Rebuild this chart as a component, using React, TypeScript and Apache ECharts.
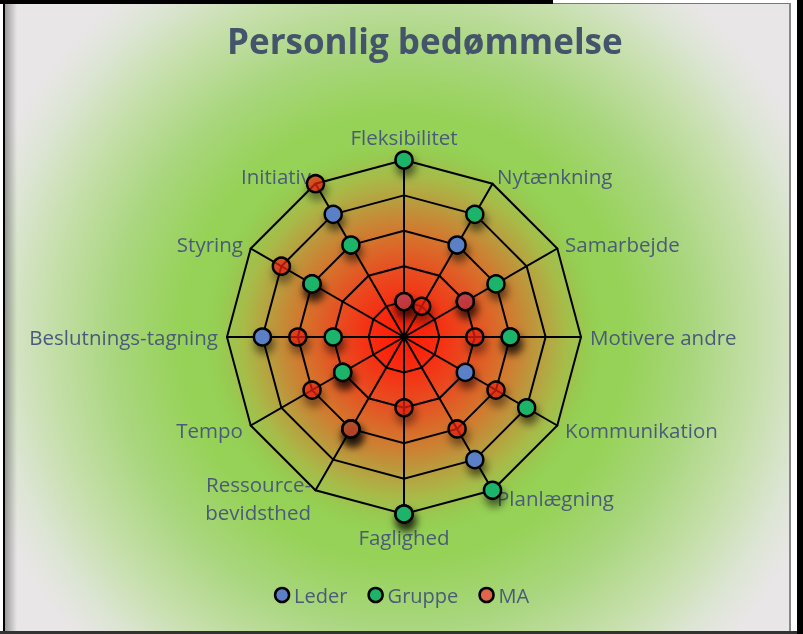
import React, { useEffect, useRef } from "react";
import * as echarts from "echarts";

// Indicators listed clockwise starting at the top
const indicators = [
  "Fleksibilitet",
  "Nytænkning",
  "Samarbejde",
  "Motivere andre",
  "Kommunikation",
  "Planlægning",
  "Faglighed",
  "Ressource-\nbevidsthed",
  "Tempo",
  "Beslutnings-tagning",
  "Styring",
  "Initiativ",
];
const seriesNames = ["Leder", "Gruppe", "MA"];
const leder = [1, 3, 2, 3, 2, 4, 5, 3, 2, 4, 3, 4];
const gruppe = [5, 4, 3, 3, 4, 5, 5, 3, 2, 2, 3, 3];
const ma = [1, 1, 2, 2, 3, 3, 2, 3, 3, 3, 4, 5];
const maxValue = 5;

export default function App() {
  const ref = useRef<HTMLDivElement>(null);
  useEffect(() => {
    if (!ref.current) return;
    const chart = echarts.init(ref.current, undefined, { renderer: "svg" });
    // ECharts radar runs counter-clockwise; reorder to draw clockwise
    const order = [0, ...Array.from({ length: indicators.length - 1 }, (_, i) => indicators.length - 1 - i)];
    const reorder = (arr: number[]) => order.map((i) => arr[i]);
    const fillColors = ["#5b80c6", "#1fb36a", "rgba(240,40,20,0.66)"];
    const legendColors = ["#5b80c6", "#1fb36a", "#e0654a"];
    const values = [leder, gruppe, ma];
    const font = "'Open Sans', sans-serif";
    chart.setOption({
      animation: false,
      title: {
        text: "Personlig bedømmelse",
        left: 222,
        top: 18,
        textStyle: { color: "#44546a", fontSize: 35, fontWeight: "bold", fontFamily: font },
      },
      legend: {
        left: "center",
        top: 580,
        itemWidth: 14,
        itemHeight: 14,
        itemGap: 20,
        icon: "circle",
        textStyle: { color: "#4a5a7a", fontSize: 20, fontFamily: font },
        data: seriesNames.map((n, i) => ({
          name: n,
          itemStyle: { color: legendColors[i], borderColor: "#000", borderWidth: 2.5 },
        })),
      },
      graphic: [
        { type: "rect", z: -10, shape: { x: 0, y: 0, width: 803, height: 634 }, style: { fill: "#ffffff" } },
        {
          type: "rect",
          z: -9,
          shape: { x: 5, y: 4, width: 786, height: 627 },
          style: {
            fill: {
              type: "radial",
              x: 404,
              y: 337,
              r: 445,
              global: true,
              colorStops: [
                { offset: 0, color: "#92d050" },
                { offset: 0.5, color: "#96d257" },
                { offset: 0.65, color: "#a9d67e" },
                { offset: 0.8, color: "#c6dfab" },
                { offset: 0.92, color: "#dde5d5" },
                { offset: 1, color: "#e9e6e7" },
              ],
            },
          },
        },
        {
          type: "circle",
          z: -8,
          shape: { cx: 404, cy: 337, r: 200 },
          style: {
            fill: {
              type: "radial",
              x: 0.5,
              y: 0.5,
              r: 0.5,
              colorStops: [
                { offset: 0, color: "#ff1a00" },
                { offset: 0.15, color: "#f82a10" },
                { offset: 0.33, color: "#e84c20" },
                { offset: 0.5, color: "#d6722c" },
                { offset: 0.66, color: "#bc983c" },
                { offset: 0.8, color: "#a8ba48" },
                { offset: 0.9, color: "#98c950" },
                { offset: 1, color: "rgba(146,208,80,0)" },
              ],
            },
          },
        },
        {
          type: "rect",
          z: -7,
          shape: { x: 5, y: 4, width: 12, height: 627 },
          style: {
            fill: {
              type: "linear",
              x: 0,
              y: 0,
              x2: 1,
              y2: 0,
              colorStops: [
                { offset: 0, color: "rgba(60,60,60,0.45)" },
                { offset: 1, color: "rgba(60,60,60,0)" },
              ],
            },
          },
        },
        { type: "rect", z: -6, shape: { x: 0, y: 0, width: 553, height: 4 }, style: { fill: "#000" } },
        { type: "rect", z: -6, shape: { x: 553, y: 0, width: 244, height: 3 }, style: { fill: "#ffffff" } },
        { type: "rect", z: -6, shape: { x: 553, y: 3, width: 238, height: 1 }, style: { fill: "#777" } },
        { type: "rect", z: -6, shape: { x: 3, y: 3, width: 2, height: 631 }, style: { fill: "#000" } },
        { type: "rect", z: -6, shape: { x: 789, y: 3, width: 2, height: 628 }, style: { fill: "#888" } },
        { type: "rect", z: -6, shape: { x: 791, y: 0, width: 6, height: 634 }, style: { fill: "#ffffff" } },
        { type: "rect", z: -6, shape: { x: 797, y: 0, width: 6, height: 634 }, style: { fill: "#000" } },
        { type: "rect", z: -6, shape: { x: 0, y: 631, width: 797, height: 3 }, style: { fill: "#333" } },
      ],
      radar: {
        center: [404, 337],
        radius: 177,
        splitNumber: 5,
        shape: "polygon",
        nameGap: 9,
        indicator: order.map((i) => ({ name: indicators[i], min: 0, max: maxValue })),
        axisName: { color: "#4a5a7a", fontSize: 20.5, fontFamily: font, lineHeight: 28 },
        axisLine: { lineStyle: { color: "#000", width: 2 } },
        splitLine: { lineStyle: { color: "#000", width: 2 } },
        splitArea: { show: false },
      },
      series: seriesNames.map((n, i) => ({
        name: n,
        type: "radar",
        symbol: "circle",
        symbolSize: 17,
        lineStyle: { width: 0, opacity: 0 },
        itemStyle: {
          color: fillColors[i],
          borderColor: "#000",
          borderWidth: 2.5,
          shadowBlur: 8,
          shadowColor: "rgba(0,0,0,0.55)",
          shadowOffsetX: 2,
          shadowOffsetY: 7,
        },
        data: [{ name: n, value: reorder(values[i]) }],
      })),
    });
    return () => chart.dispose();
  }, []);
  return <div ref={ref} style={{ position: "fixed", left: 0, top: 0, width: 803, height: 634 }} />;
}
